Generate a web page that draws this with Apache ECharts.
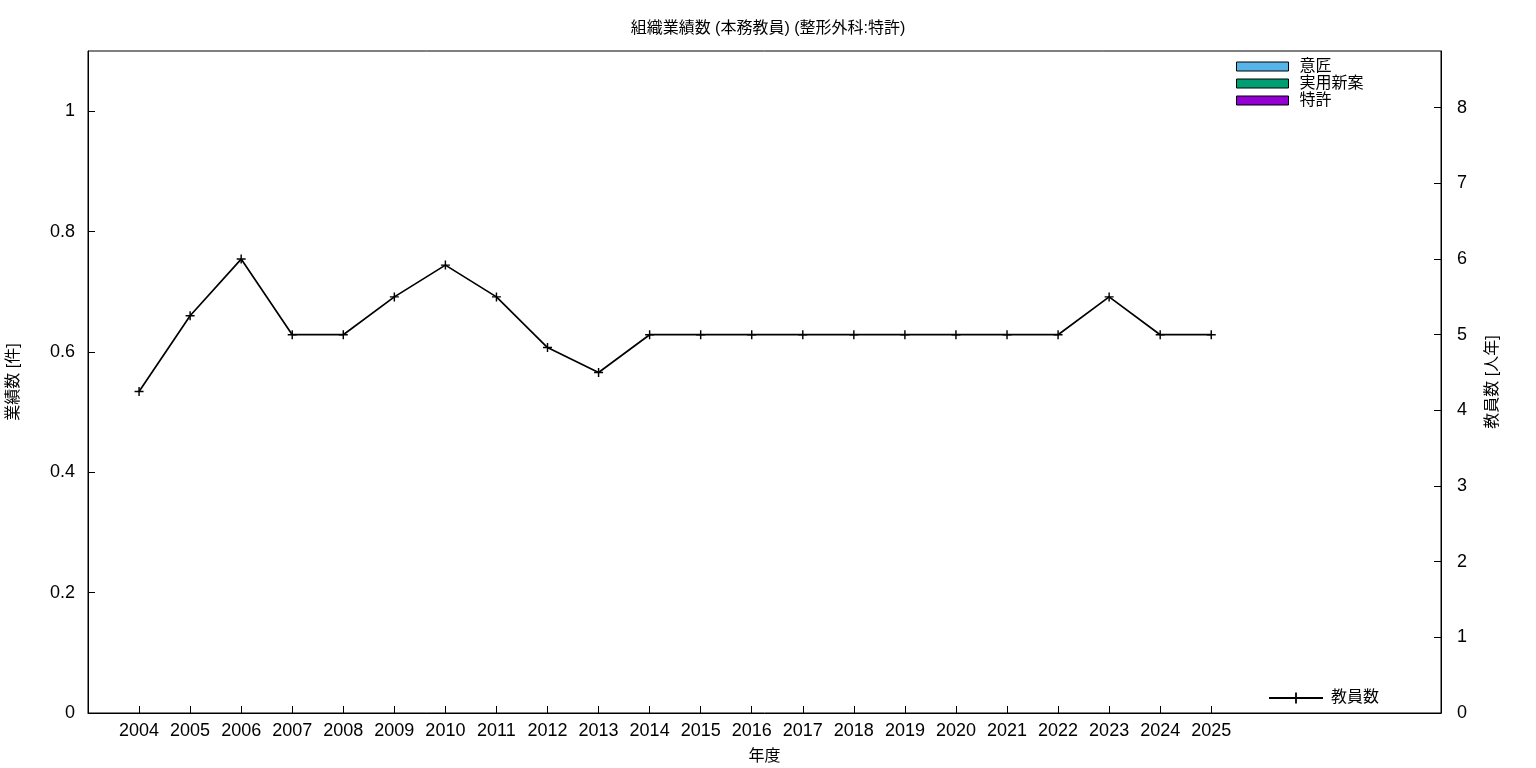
<!DOCTYPE html>
<html>
<head>
<meta charset="utf-8">
<script src="https://cdn.jsdelivr.net/npm/echarts@6/dist/echarts.min.js"></script>
<style>
html,body{margin:0;padding:0;background:#fff;}
#chart{width:1536px;height:768px;}
</style>
</head>
<body>
<div id="chart"></div>
<script>
const years = ['2004','2005','2006','2007','2008','2009','2010','2011','2012','2013','2014','2015','2016','2017','2018','2019','2020','2021','2022','2023','2024','2025'];
const isho = [0,0,0,0,0,0,0,0,0,0,0,0,0,0,0,0,0,0,0,0,0,0];
const jitsuyo = [0,0,0,0,0,0,0,0,0,0,0,0,0,0,0,0,0,0,0,0,0,0];
const tokkyo = [0,0,0,0,0,0,0,0,0,0,0,0,0,0,0,0,0,0,0,0,0,0];
const faculty = [4.25,5.25,6,5,5,5.5,5.92,5.5,4.83,4.5,5,5,5,5,5,5,5,5,5,5.5,5,5];
const leftTicks = [0,0.2,0.4,0.6,0.8,1];
const rightTicks = [0,1,2,3,4,5,6,7,8];

const FONT = '"Liberation Sans","Noto Sans CJK JP",sans-serif';
const idx = years.map((_, i) => i);
const pair = arr => arr.map((v, i) => [i, v]);
const plus = 'path://M0,4.2h10v1.6h-10zM4.2,0h1.6v10h-1.6z';

const chart = echarts.init(document.getElementById('chart'));
chart.setOption({
  animation: false,
  backgroundColor: '#fff',
  textStyle: {fontFamily: FONT, color: '#000'},
  title: {
    text: '組織業績数 (本務教員) (整形外科:特許)',
    left: 'center', top: 16,
    textStyle: {fontFamily: FONT, fontSize: 16, fontWeight: 'normal', color: '#000'}
  },
  grid: {left: 88, top: 51, right: 95, bottom: 55, show: true, borderColor: '#000', borderWidth: 1,
    containLabel: false, outerBoundsMode: 'none'},
  legend: [{
    data: ['意匠', '実用新案', '特許'],
    orient: 'vertical', left: 1236, top: 58, padding: 0,
    itemWidth: 52, itemHeight: 9, itemGap: 0,
    icon: 'rect',
    itemStyle: {borderColor: '#000', borderWidth: 1},
    textStyle: {fontFamily: FONT, fontSize: 16, lineHeight: 17, color: '#000', padding: [0,0,0,6]},
  }, {
    data: ['教員数'],
    left: 1268, top: 690, padding: 0,
    itemWidth: 54, itemHeight: 14,
    textStyle: {fontFamily: FONT, fontSize: 16, color: '#000', padding: [0,0,0,3]}
  }],
  xAxis: {
    type: 'value', min: -1, max: 25.5,
    name: '年度', nameLocation: 'middle', nameGap: 36,
    nameTextStyle: {fontFamily: FONT, fontSize: 16, color: '#000'},
    axisLine: {show: true, onZero: false, lineStyle: {color: '#000', width: 1}},
    axisTick: {show: true, inside: true, length: 7, lineStyle: {color: '#000'}, customValues: idx},
    axisLabel: {show: true, margin: 9, fontFamily: FONT, fontSize: 18, color: '#000', customValues: idx,
      formatter: v => years[Math.round(v)] ?? ''},
    splitLine: {show: false}
  },
  yAxis: [{
    type: 'value', min: 0, max: 1.1, position: 'left',
    name: '業績数 [件]', nameLocation: 'middle', nameGap: 66, nameRotate: 90,
    nameTextStyle: {fontFamily: FONT, fontSize: 16, color: '#000'},
    axisLine: {show: true, onZero: false, lineStyle: {color: '#000', width: 1}},
    axisTick: {show: true, inside: true, length: 7, lineStyle: {color: '#000'}, customValues: leftTicks},
    axisLabel: {margin: 13, fontFamily: FONT, fontSize: 18, color: '#000', customValues: leftTicks,
      formatter: v => String(Math.round(v * 10) / 10)},
    splitLine: {show: false}
  }, {
    type: 'value', min: 0, max: 8.75, position: 'right',
    name: '教員数 [人年]', nameLocation: 'middle', nameGap: 44, nameRotate: 90,
    nameTextStyle: {fontFamily: FONT, fontSize: 16, color: '#000'},
    axisLine: {show: true, onZero: false, lineStyle: {color: '#000', width: 1}},
    axisTick: {show: true, inside: true, length: 7, lineStyle: {color: '#000'}, customValues: rightTicks},
    axisLabel: {margin: 16, fontFamily: FONT, fontSize: 18, color: '#000', customValues: rightTicks},
    splitLine: {show: false}
  }],
  series: [
    {name: '意匠', type: 'bar', stack: 'a', yAxisIndex: 0, data: pair(isho), itemStyle: {color: '#56b4e9'}, barWidth: 30},
    {name: '実用新案', type: 'bar', stack: 'a', yAxisIndex: 0, data: pair(jitsuyo), itemStyle: {color: '#009e73'}, barWidth: 30},
    {name: '特許', type: 'bar', stack: 'a', yAxisIndex: 0, data: pair(tokkyo), itemStyle: {color: '#9400d3'}, barWidth: 30},
    {name: '教員数', type: 'line', yAxisIndex: 1, data: pair(faculty),
      symbol: plus, symbolSize: 9, showAllSymbol: true,
      lineStyle: {color: '#000', width: 1.7}, itemStyle: {color: '#000'}}
  ]
});
</script>
</body>
</html>
